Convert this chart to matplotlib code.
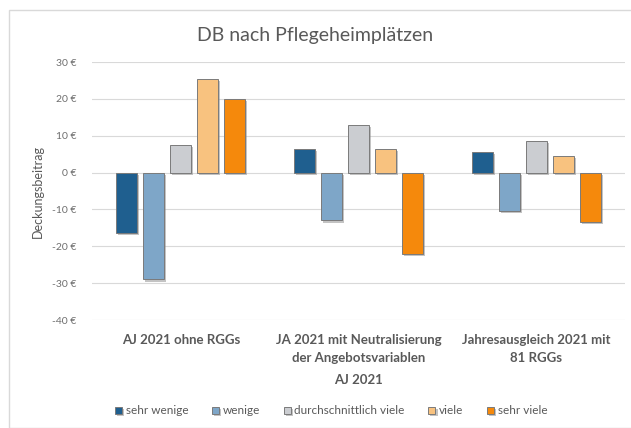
import matplotlib
matplotlib.use('Agg')
import matplotlib.pyplot as plt
import matplotlib.patheffects as pe
from matplotlib.patches import Rectangle
import numpy as np

plt.rcParams['font.family'] = ['Lato', 'DejaVu Sans']

# Deckungsbeitrag je Gruppe und Pflegeheimplatz-Klasse
groups = ['AJ 2021 ohne RGGs',
          'JA 2021 mit Neutralisierung\nder Angebotsvariablen',
          'Jahresausgleich 2021 mit\n81 RGGs']
series = ['sehr wenige', 'wenige', 'durchschnittlich viele', 'viele', 'sehr viele']
sehr_wenige = [-16.5, 6.5, 5.5]
wenige = [-29.0, -13.0, -10.5]
durchschnittlich_viele = [7.5, 13.0, 8.5]
viele = [25.5, 6.5, 4.5]
sehr_viele = [20.0, -22.0, -13.5]
yticks = [30, 20, 10, 0, -10, -20, -30, -40]

values = [sehr_wenige, wenige, durchschnittlich_viele, viele, sehr_viele]
colors = ['#1f5f8f', '#7ea6c8', '#cbcdd1', '#f8c27f', '#f5890c']

fig = plt.figure(figsize=(6.31, 4.28), dpi=100)
fig.patches.append(Rectangle((9/631, 0), 1.0, 1 - 10/428, transform=fig.transFigure,
                             fill=False, edgecolor='#d9d9d9', linewidth=1.0))
ax = fig.add_axes([92/631, 1 - 320/428, 533/631, 258/428])

x = np.arange(len(groups))
slot = 0.152
width = 0.118
shadow = [pe.SimplePatchShadow(offset=(1.5, -1.5), shadow_rgbFace='#888888', alpha=0.5),
          pe.Normal()]
for i, (name, vals, c) in enumerate(zip(series, values, colors)):
    bars = ax.bar(x + (i - 2) * slot, vals, width, color=c, edgecolor='#7a7a7a',
                  linewidth=0.7, label=name, zorder=3)
    for b in bars:
        b.set_path_effects(shadow)

ax.set_ylim(-40, 30)
ax.set_xlim(-0.5, 2.5)
ax.set_yticks(yticks)
ax.set_yticklabels(['%d €' % v for v in yticks], color='#6e6e6e', fontsize=7.5)
ax.yaxis.grid(True, color='#d9d9d9', linewidth=0.8, zorder=0)
ax.set_axisbelow(True)
for s in ax.spines.values():
    s.set_visible(False)
ax.tick_params(axis='both', length=0, pad=11)
ax.set_xticks(x)
ax.set_xticklabels(groups, fontsize=9.5, fontweight='bold', color='#595959',
                   linespacing=1.6)
ax.tick_params(axis='x', pad=10)
ax.set_xlabel('AJ 2021', fontsize=9.5, fontweight='bold', color='#595959', labelpad=7)
ax.set_ylabel('Deckungsbeitrag', fontsize=9, color='#595959', labelpad=6)

fig.text(0.5, 1 - 35/428, 'DB nach Pflegeheimplätzen', ha='center', va='center',
         fontsize=14, color='#595959')

leg = fig.legend(*ax.get_legend_handles_labels(), loc='center',
                 bbox_to_anchor=(0.525, 1 - 411/428), ncol=5, frameon=False,
                 fontsize=8.5, handlelength=0.6, handleheight=0.6, handletextpad=0.3,
                 columnspacing=2.0)
for t in leg.get_texts():
    t.set_color('#595959')

fig.savefig('out.png', dpi=100)
